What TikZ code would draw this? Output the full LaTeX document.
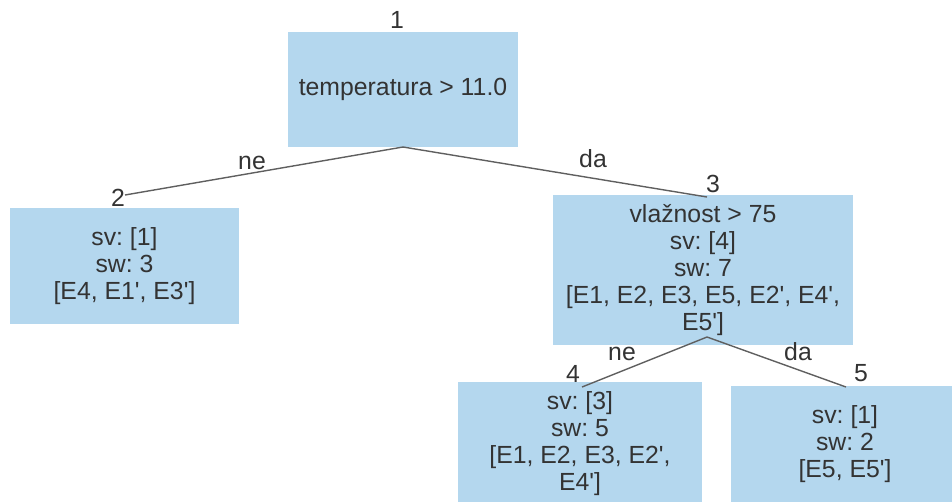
\documentclass[tikz,border=0pt]{standalone}
\usepackage{fontspec}
\setmainfont{Liberation Sans}[Ligatures=TeXOff]
\frenchspacing
\begin{document}
\begin{tikzpicture}[x=1pt,y=-1pt,
  every node/.style={inner sep=0pt,outer sep=0pt,text=txtgray,
    font=\fontsize{24.8}{27}\selectfont},
  treebox/.style={rectangle,fill=boxblue,align=center},
  idlabel/.style={anchor=base},
  branch/.style={draw=edgegray,line width=1.4pt},
  branchlabel/.style={anchor=base}]
\definecolor{boxblue}{RGB}{180,215,238}
\definecolor{txtgray}{RGB}{51,51,51}
\definecolor{edgegray}{RGB}{95,95,95}
\useasboundingbox (0,0) rectangle (952,501);
\clip (0,0) rectangle (952,501);

% tree nodes
\node[treebox,minimum width=230,minimum height=115] (n1) at (403,89.5) {temperatura > 11.0};
\node[treebox,minimum width=229,minimum height=116] (n2) at (124.5,266) {sv: [1]\\sw: 3\\{}[E4, E1', E3']};
\node[treebox,minimum width=300,minimum height=150] (n3) at (703,270) {vlažnost > 75\\sv: [4]\\sw: 7\\{}[E1, E2, E3, E5, E2', E4',\\E5']};
\node[treebox,minimum width=244,minimum height=124] (n4) at (580,444) {sv: [3]\\sw: 5\\{}[E1, E2, E3, E2',\\E4']};
\node[treebox,minimum width=228,minimum height=116] (n5) at (845,444) {sv: [1]\\sw: 2\\{}[E5, E5']};

% node numbers
\node[idlabel] (l1) at (397,28) {1};
\node[idlabel] (l2) at (118,206) {2};
\node[idlabel] (l3) at (713,192) {3};
\node[idlabel] (l4) at (573,382) {4};
\node[idlabel] (l5) at (861,381) {5};

% branch end points
\coordinate (s1) at (n1.south);
\coordinate (e2) at (125,195);
\coordinate (e3) at (707,197);
\coordinate (s3) at (707,337);
\coordinate (e4) at (582,387);
\coordinate (e5) at (846,387);

% branches
\draw[branch] (s1) -- (e2);
\draw[branch] (s1) -- (e3);
\draw[branch] (s3) -- (e4);
\draw[branch] (s3) -- (e5);

% branch labels
\node[branchlabel] (b12) at (252,169) {ne};
\node[branchlabel] (b13) at (593,167) {da};
\node[branchlabel] (b34) at (622,360) {ne};
\node[branchlabel] (b35) at (798,360) {da};
\end{tikzpicture}
\end{document}
